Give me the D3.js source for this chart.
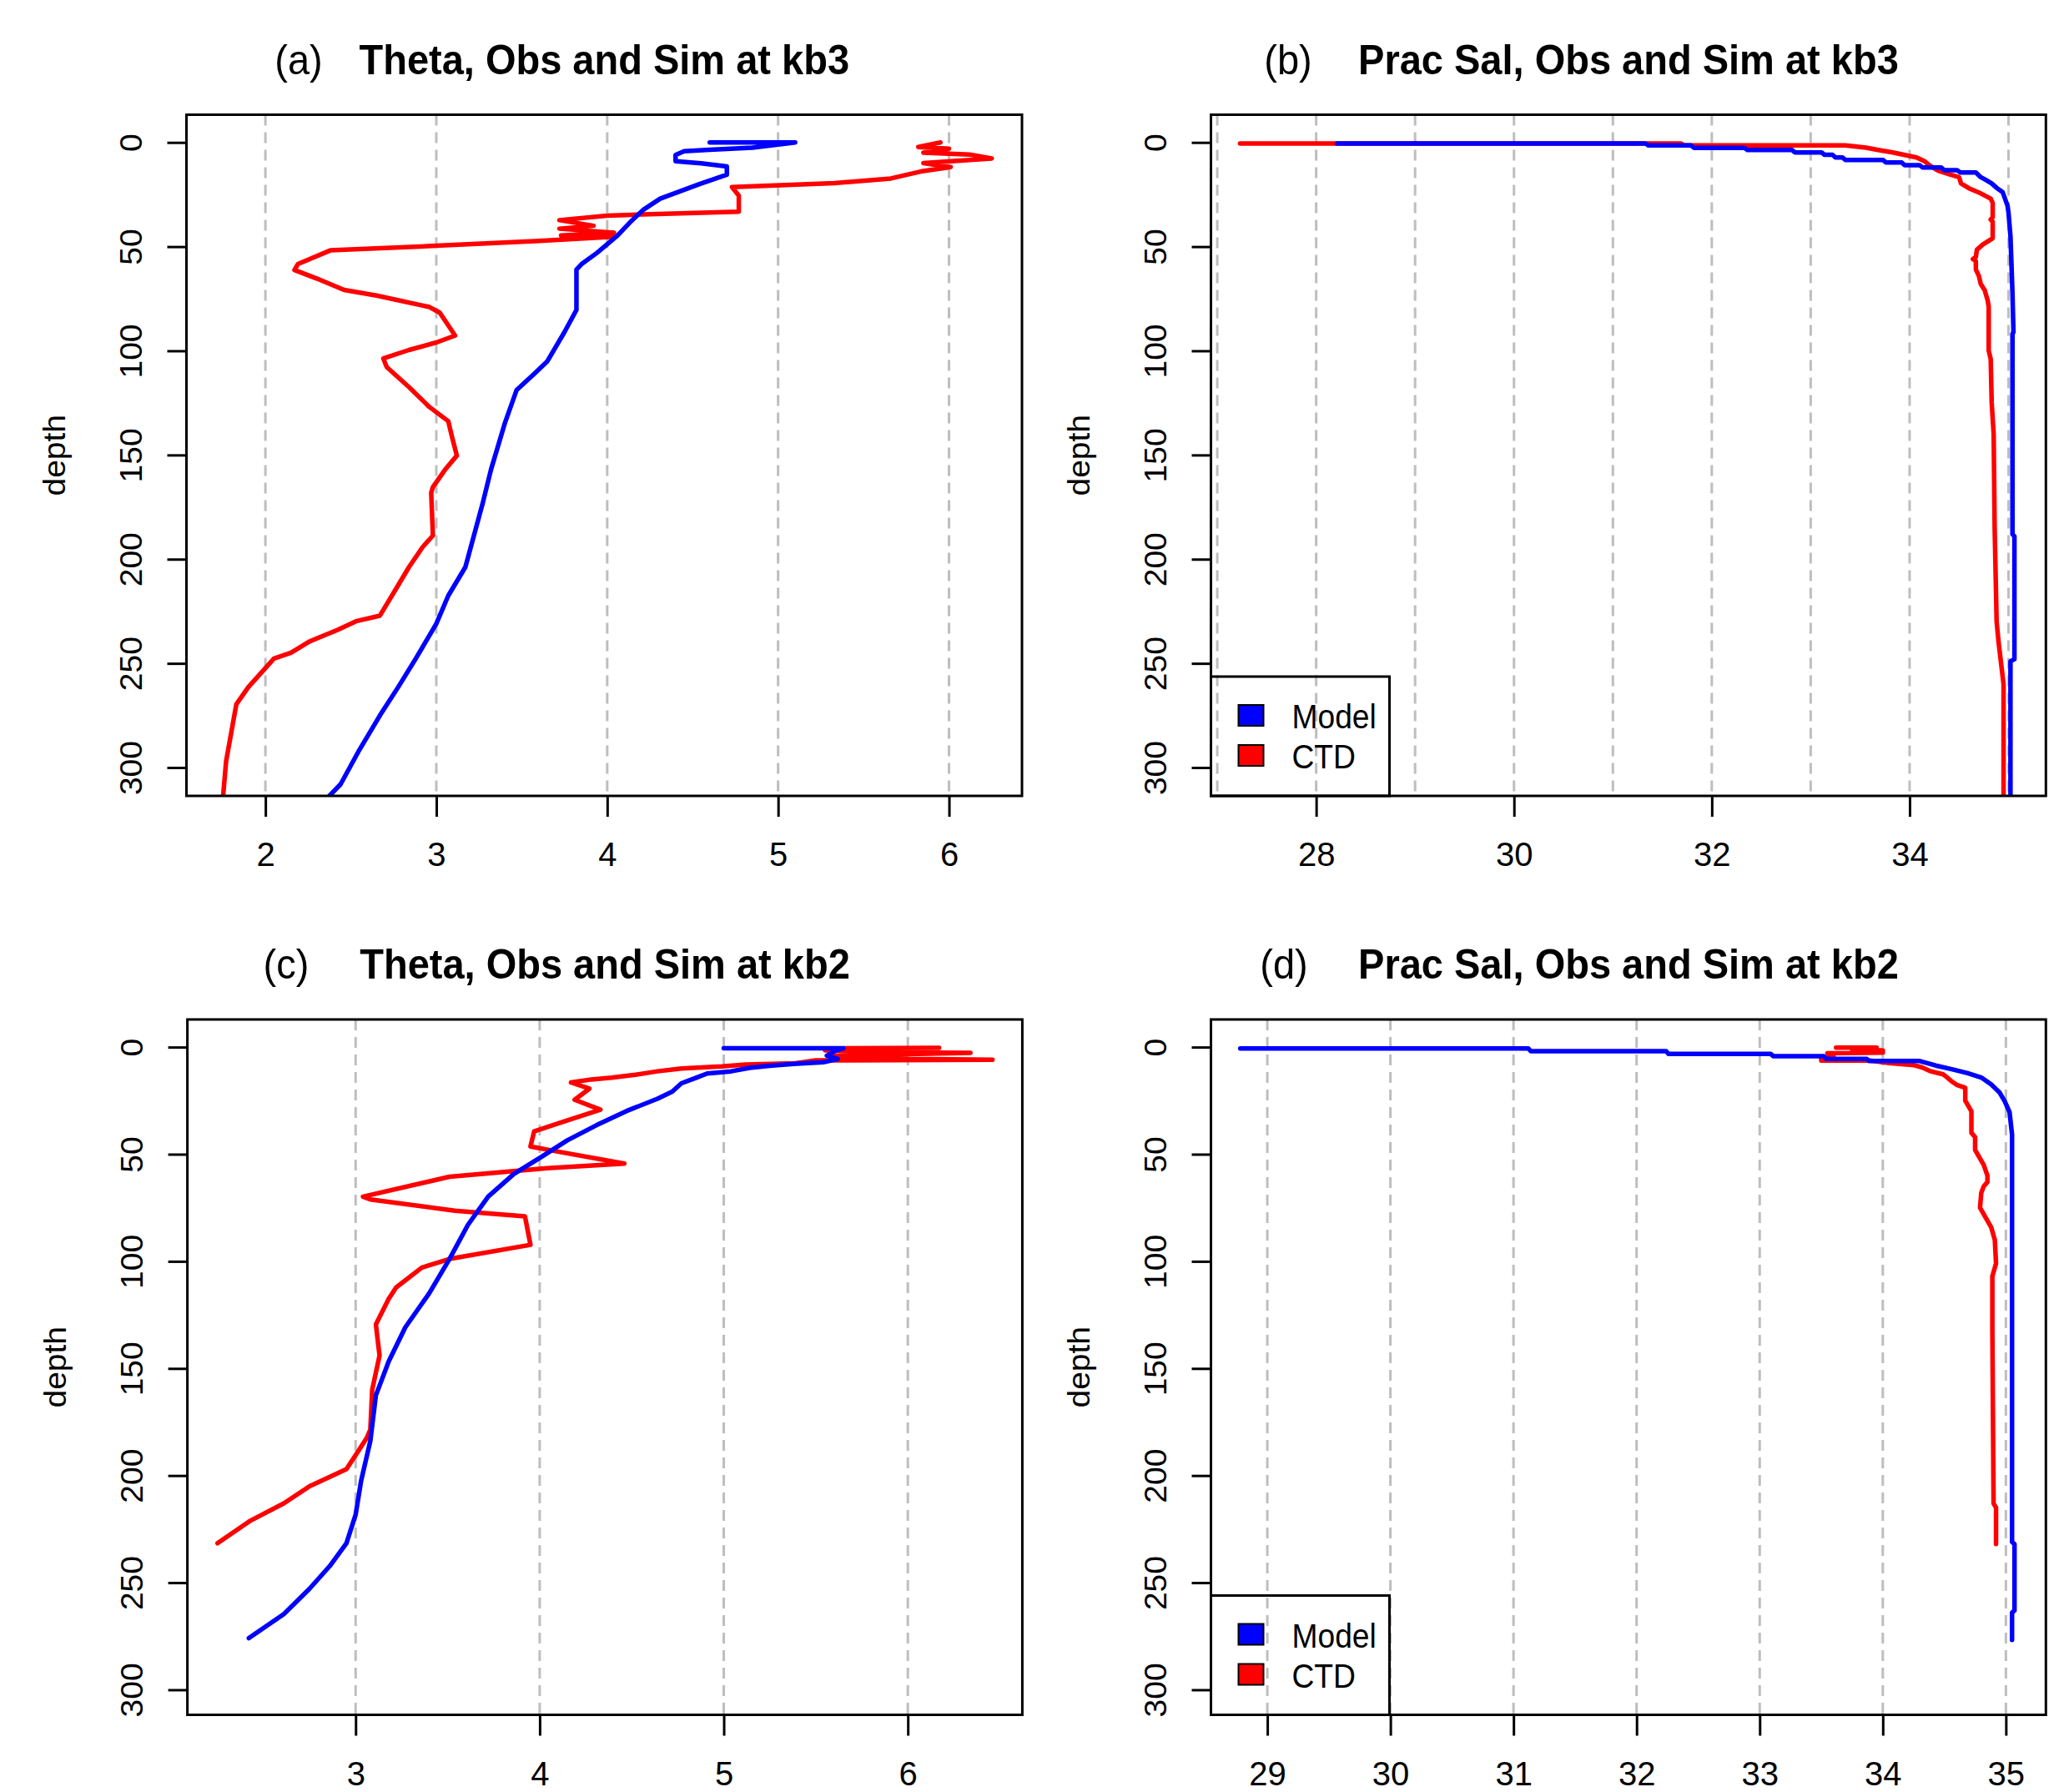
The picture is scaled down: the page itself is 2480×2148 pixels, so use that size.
<!DOCTYPE html>
<html>
<head>
<meta charset="utf-8">
<script src="https://cdn.jsdelivr.net/npm/d3@7"></script>
<style>
  body { margin: 0; background: #fff; }
  svg text { font-family: "Liberation Sans", Arial, sans-serif; }
</style>
</head>
<body>
<div id="chart"></div>
<script>
// Profiles as [value, depth] pairs
const thetaModelKb3 = [[4.6,0],[5.1,0],[4.85,2.5],[4.6,3.5],[4.45,4.2],[4.4,6],[4.4,9],[4.55,10],[4.7,11.5],[4.7,15.5],[4.54,20],[4.31,27],[4.21,32.4],[4.14,37.8],[4.06,44.7],[3.94,53],[3.85,58.4],[3.82,61],[3.82,80.4],[3.75,91],[3.65,105],[3.58,110.5],[3.47,118.8],[3.40,135],[3.32,157],[3.27,173.6],[3.17,203.8],[3.07,217.5],[3.0,231],[2.88,247.7],[2.78,261],[2.67,275],[2.55,291.5],[2.44,308],[2.37,314]];
const thetaCtdKb3 = [[5.95,0],[5.82,2.2],[6.0,3],[5.85,4.9],[6.12,5.8],[6.25,7.7],[5.85,9.9],[6.01,11.8],[5.85,13.7],[5.66,17.3],[5.33,19.5],[4.73,21.4],[4.77,25.5],[4.77,33.2],[4.0,35.1],[3.72,37.3],[3.92,40],[3.72,41.4],[4.04,43.3],[3.73,44.7],[4.04,45.3],[3.58,47.4],[3.0,49.6],[2.38,51.8],[2.19,58.4],[2.17,61.2],[2.3,65.3],[2.46,70.8],[2.65,73.5],[2.96,79],[3.02,81.7],[3.11,92.7],[3.0,96],[2.84,99.6],[2.69,103.7],[2.71,107.8],[2.84,117.4],[2.96,127],[3.07,133.8],[3.09,140.7],[3.12,150.3],[3.05,157.2],[2.98,165.4],[2.97,168.1],[2.98,188.7],[2.92,194.2],[2.84,203.8],[2.76,214.8],[2.67,227.1],[2.53,229.8],[2.42,234],[2.26,239.4],[2.15,244.9],[2.05,247.7],[1.99,253.2],[1.9,261.4],[1.83,269.6],[1.8,283.3],[1.77,297],[1.75,316]];
const salModelKb3 = [[28.21,0.5],[31.33,0.5],[31.36,1.45],[31.79,1.45],[31.82,2.6],[32.33,2.6],[32.36,3.6],[32.81,3.6],[32.84,4.8],[33.11,4.8],[33.14,5.9],[33.22,5.9],[33.25,7.2],[33.32,7.2],[33.35,8.4],[33.73,8.4],[33.76,9.6],[33.92,9.6],[33.95,10.9],[34.1,10.9],[34.13,12],[34.32,12],[34.35,13.3],[34.48,13.3],[34.51,14.4],[34.67,14.4],[34.72,16.7],[34.77,18],[34.83,19.7],[34.88,21.8],[34.94,23.8],[34.96,26.4],[34.99,30.4],[35.0,33.7],[35.02,45],[35.04,72],[35.05,91],[35.04,92],[35.04,188],[35.06,189],[35.06,248],[35.02,249],[35.02,316]];
const salCtdKb3 = [[27.23,0.5],[31.69,0.5],[31.72,1.45],[33.35,1.45],[33.56,2.5],[33.67,3.5],[33.83,4.8],[33.95,6],[34.07,7.2],[34.15,9],[34.2,11],[34.25,12.5],[34.29,13.6],[34.4,15.3],[34.5,16.7],[34.52,19.7],[34.6,22],[34.7,24],[34.76,25.5],[34.82,27],[34.84,29],[34.84,36],[34.82,37],[34.84,38],[34.84,46],[34.79,47.5],[34.74,49],[34.68,51.5],[34.67,55],[34.64,56],[34.67,57],[34.67,61],[34.7,64],[34.72,68],[34.76,71],[34.79,76],[34.8,79],[34.8,86],[34.8,100],[34.82,104],[34.83,125],[34.85,140],[34.86,185],[34.88,230],[34.9,240],[34.93,252],[34.95,260],[34.95,316]];
const thetaModelKb2 = [[5.0,0.5],[5.65,0.5],[5.6,2],[5.56,4],[5.62,5.5],[5.54,7.1],[5.38,7.8],[5.25,8.7],[5.14,9.7],[5.04,11.3],[4.91,12.3],[4.85,14.3],[4.77,16.9],[4.72,20.8],[4.64,24.1],[4.47,29.9],[4.31,36.4],[4.15,43.5],[4.01,51.2],[3.86,59.2],[3.72,69.8],[3.61,83],[3.51,98.9],[3.4,114.9],[3.27,130.8],[3.18,146.7],[3.11,162.6],[3.08,183.8],[3.03,202.4],[3.0,218.3],[2.95,231.6],[2.86,242.2],[2.75,252.8],[2.61,264.7],[2.42,275.9]];
const thetaCtdKb2 = [[6.17,0.3],[5.66,0.5],[5.55,1.5],[5.95,2.5],[6.34,2.7],[5.6,4],[6.0,5.5],[6.46,5.9],[5.5,6.2],[5.39,7.5],[5.12,8.1],[4.99,9.0],[4.77,10],[4.64,11.3],[4.52,12.9],[4.39,14.3],[4.28,15.1],[4.17,16.5],[4.27,19.4],[4.19,24.6],[4.33,29.2],[4.11,35.3],[3.97,39.3],[3.95,46.4],[4.08,48.5],[4.46,54.4],[4.04,56.5],[3.51,60.5],[3.04,69.8],[3.08,71.1],[3.54,76.4],[3.92,79],[3.95,92.3],[3.51,98.9],[3.36,102.9],[3.22,112.2],[3.18,117.5],[3.11,129.4],[3.13,144],[3.11,152],[3.09,160],[3.08,178.5],[3.06,182.5],[3.0,190.5],[2.95,197],[2.75,205],[2.61,213],[2.43,221],[2.25,231.6]];
const salModelKb2 = [[28.78,0.6],[31.12,0.6],[31.14,1.9],[32.24,1.9],[32.26,3.2],[33.09,3.2],[33.11,4.2],[33.52,4.2],[33.54,5.5],[33.87,5.5],[33.89,6.5],[34.3,6.5],[34.43,8.6],[34.56,10.3],[34.69,12.2],[34.8,14.2],[34.88,17.4],[34.95,21.3],[34.99,25.2],[35.03,30.4],[35.05,40.8],[35.05,231],[35.07,232],[35.07,263],[35.05,264],[35.05,276.7]];
const salCtdKb2 = [[33.62,0.2],[33.95,0.2],[33.75,1.0],[34.0,1.5],[34.0,2.6],[33.55,2.9],[33.6,4.5],[33.5,5.2],[33.5,6.3],[33.9,6.3],[34.05,7.5],[34.25,8.4],[34.32,9.5],[34.39,11.3],[34.49,12.7],[34.52,14],[34.56,16],[34.6,17.6],[34.67,19],[34.67,25],[34.69,27],[34.72,30],[34.72,40],[34.75,42],[34.75,48],[34.78,51],[34.82,55],[34.85,60],[34.85,63],[34.82,65],[34.8,68],[34.79,75],[34.84,80],[34.88,84],[34.91,90],[34.92,101],[34.89,107],[34.89,131],[34.9,213],[34.92,215],[34.92,232]];

const depthTicks = [0, 50, 100, 150, 200, 250, 300];
const thetaTicksKb3 = [2, 3, 4, 5, 6];
const salTicksKb3 = [28, 30, 32, 34];
const salGridKb3 = [27, 28, 29, 30, 31, 32, 33, 34, 35];
const thetaTicksKb2 = [3, 4, 5, 6];
const salTicksKb2 = [29, 30, 31, 32, 33, 34, 35];
const legendLabels = ["Model", "CTD"];
const seriesColors = ["#0000ff", "#ff0000"];

const width = 2480, height = 2148;

const panels = [
  {tag: "(a)", title: "Theta, Obs and Sim at kb3", tagX: 358,
   box: {x0: 223.5, x1: 1225, y0: 137.5, y1: 954},
   xDomain: [1.538, 6.427], yDomain: [-13.3, 313.6],
   ticks: thetaTicksKb3, grid: thetaTicksKb3,
   model: thetaModelKb3, ctd: thetaCtdKb3, legend: false},
  {tag: "(b)", title: "Prac Sal, Obs and Sim at kb3", tagX: 1544,
   box: {x0: 1451.5, x1: 2452.3, y0: 137.5, y1: 954},
   xDomain: [26.936, 35.378], yDomain: [-13.3, 313.6],
   ticks: salTicksKb3, grid: salGridKb3,
   model: salModelKb3, ctd: salCtdKb3, legend: true},
  {tag: "(c)", title: "Theta, Obs and Sim at kb2", tagX: 343,
   box: {x0: 224.6, x1: 1225.4, y0: 1222, y1: 2055.5},
   xDomain: [2.086, 6.622], yDomain: [-12.9, 311.7],
   ticks: thetaTicksKb2, grid: thetaTicksKb2,
   model: thetaModelKb2, ctd: thetaCtdKb2, legend: false},
  {tag: "(d)", title: "Prac Sal, Obs and Sim at kb2", tagX: 1539,
   box: {x0: 1451.5, x1: 2452.3, y0: 1222, y1: 2055.5},
   xDomain: [28.542, 35.325], yDomain: [-12.9, 311.7],
   ticks: salTicksKb2, grid: salTicksKb2,
   model: salModelKb2, ctd: salCtdKb2, legend: true}
];

const svg = d3.select("#chart").append("svg")
    .attr("width", width)
    .attr("height", height)
    .style("background", "#fff");

function drawPanel(p, idx) {
    const b = p.box;
    const x = d3.scaleLinear().domain(p.xDomain).range([b.x0, b.x1]);
    const y = d3.scaleLinear().domain(p.yDomain).range([b.y0, b.y1]);
    const g = svg.append("g");

    // Clip lines to the plot region, like R does
    const clipId = "clip" + idx;
    g.append("clipPath").attr("id", clipId)
      .append("rect")
        .attr("x", b.x0).attr("y", b.y0)
        .attr("width", b.x1 - b.x0).attr("height", b.y1 - b.y0);

    // Dashed vertical grid
    g.selectAll(".grid")
      .data(p.grid)
      .enter().append("line")
        .attr("x1", d => x(d)).attr("x2", d => x(d))
        .attr("y1", b.y0).attr("y2", b.y1)
        .attr("stroke", "#bebebe")
        .attr("stroke-width", 3)
        .attr("stroke-dasharray", "13,8");

    // Profiles: CTD first, model on top
    const line = d3.line().x(d => x(d[0])).y(d => y(d[1]));
    [p.ctd, p.model].forEach(function(series, i) {
        g.append("path")
          .datum(series)
          .attr("clip-path", "url(#" + clipId + ")")
          .attr("d", line)
          .attr("fill", "none")
          .attr("stroke", i === 0 ? seriesColors[1] : seriesColors[0])
          .attr("stroke-width", 5.5)
          .attr("stroke-linejoin", "round")
          .attr("stroke-linecap", "round");
    });

    // Box
    g.append("rect")
      .attr("x", b.x0).attr("y", b.y0)
      .attr("width", b.x1 - b.x0).attr("height", b.y1 - b.y0)
      .attr("fill", "none").attr("stroke", "#000").attr("stroke-width", 3);

    // x axis
    const xa = g.append("g")
      .attr("transform", "translate(0," + b.y1 + ")")
      .call(d3.axisBottom(x).tickValues(p.ticks).tickSize(25).tickSizeOuter(0)
            .tickFormat(d3.format("d")));
    xa.select(".domain").remove();
    xa.selectAll(".tick line").attr("stroke", "#000").attr("stroke-width", 3);
    xa.selectAll(".tick text")
      .attr("y", 84).attr("dy", null)
      .attr("fill", "#000")
      .style("font-size", "40px")
      .style("font-family", "'Liberation Sans', Arial, sans-serif");

    // y axis (labels parallel to axis)
    const ya = g.append("g")
      .attr("transform", "translate(" + b.x0 + ",0)")
      .call(d3.axisLeft(y).tickValues(depthTicks).tickSize(23).tickSizeOuter(0)
            .tickFormat(d3.format("d")));
    ya.select(".domain").remove();
    ya.selectAll(".tick line").attr("stroke", "#000").attr("stroke-width", 3);
    ya.selectAll(".tick text")
      .attr("x", null).attr("dy", null)
      .attr("transform", "translate(-53.5,0) scale(0.94,1) rotate(-90)")
      .attr("text-anchor", "middle")
      .attr("fill", "#000")
      .style("font-size", "39px")
      .style("font-family", "'Liberation Sans', Arial, sans-serif");

    // depth label
    g.append("text")
      .attr("transform", "translate(" + (b.x0 - 146) + "," + ((b.y0 + b.y1) / 2) + ") scale(0.94,1) rotate(-90)")
      .attr("text-anchor", "middle")
      .style("font-size", "39px")
      .text("depth");

    // Titles
    const cx = (b.x0 + b.x1) / 2;
    g.append("text")
      .attr("transform", "translate(" + p.tagX + "," + (b.y0 - 49) + ") scale(0.94,1)")
      .attr("text-anchor", "middle")
      .style("font-size", "50px")
      .text(p.tag);
    g.append("text")
      .attr("transform", "translate(" + cx + "," + (b.y0 - 49) + ") scale(0.94,1)")
      .attr("text-anchor", "middle")
      .style("font-size", "50px")
      .style("font-weight", "bold")
      .text(p.title);

    // Legend (bottom left, transparent background)
    if (p.legend) {
        const lh = 143, lw = 214;
        const top = b.y1 - lh;
        const lg = g.append("g");
        lg.append("rect")
          .attr("x", b.x0).attr("y", top)
          .attr("width", lw).attr("height", lh)
          .attr("fill", "none").attr("stroke", "#000").attr("stroke-width", 3);
        legendLabels.forEach(function(lab, i) {
            lg.append("rect")
              .attr("x", b.x0 + 33).attr("y", top + 34 + i * 48)
              .attr("width", 30).attr("height", 25)
              .attr("fill", seriesColors[i])
              .attr("stroke", "#000").attr("stroke-width", 2);
            lg.append("text")
              .attr("transform", "translate(" + (b.x0 + 97) + "," + (top + 62 + i * 48) + ") scale(0.93,1)")
              .style("font-size", "40px")
              .text(lab);
        });
    }
}

panels.forEach(drawPanel);
</script>
</body>
</html>
